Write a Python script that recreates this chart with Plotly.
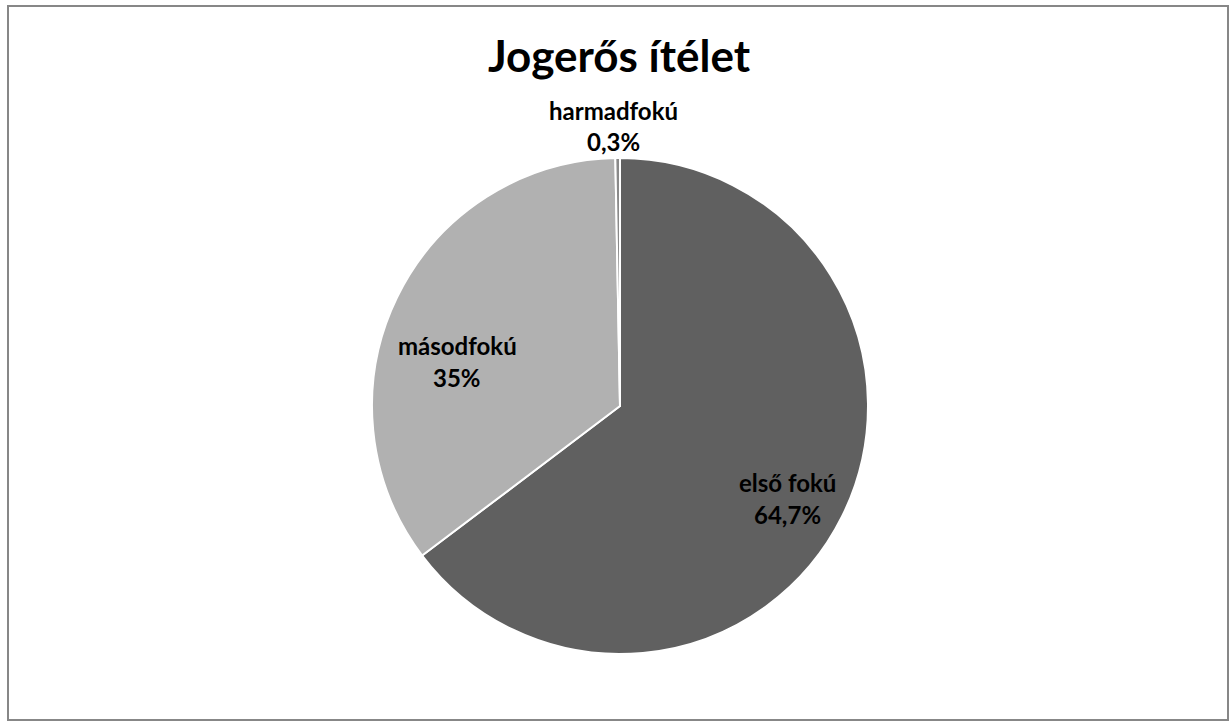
import plotly.graph_objects as go

labels = ["első fokú", "másodfokú", "harmadfokú"]
values = [64.7, 35.0, 0.3]
colors = ["#606060", "#b1b1b1", "#8a8a8a"]
# label centres in pixels (x, y from top) for the two-line data labels
label_px = [(787, 498), (457, 361), (613, 126)]

W, H = 1230, 723
cx, cy, R = 620, 406, 248

def fmt(v):
    s = ("%.1f" % v).rstrip("0").rstrip(".")
    return s.replace(".", ",") + "%"

fig = go.Figure(go.Pie(
    labels=labels, values=values, sort=False, direction="clockwise", rotation=0,
    marker=dict(colors=colors, line=dict(color="white", width=2)),
    textinfo="none", hoverinfo="label+percent", showlegend=False,
    domain=dict(x=[(cx - R) / W, (cx + R) / W], y=[1 - (cy + R) / H, 1 - (cy - R) / H]),
))

font = "Lato, 'Open Sans', sans-serif"
anns = []
for lab, v, (px, py) in zip(labels, values, label_px):
    for txt, dy in ((lab, -16), (fmt(v), 16)):
        anns.append(dict(x=px / W, y=1 - (py + dy) / H, xref="paper", yref="paper",
                         text="<b>%s</b>" % txt, showarrow=False,
                         font=dict(family=font, size=24, color="black"),
                         xanchor="center", yanchor="middle"))

fig.update_layout(
    width=W, height=H, margin=dict(l=0, r=0, t=0, b=0),
    paper_bgcolor="white", plot_bgcolor="white",
    title=dict(text="<b>Jogerős ítélet</b>", x=619 / W, xanchor="center",
               y=1 - 57 / H, yanchor="middle", yref="container",
               font=dict(family=font, size=44, color="black")),
    annotations=anns,
    shapes=[dict(type="rect", xref="paper", yref="paper",
                 x0=8 / W, x1=1228 / W, y0=1 - 720 / H, y1=1 - 6 / H,
                 line=dict(color="#878787", width=2))],
)

fig.write_html("out.html", config={"displayModeBar": False},
               post_script="document.body.style.margin='0';document.body.style.overflow='hidden';")
